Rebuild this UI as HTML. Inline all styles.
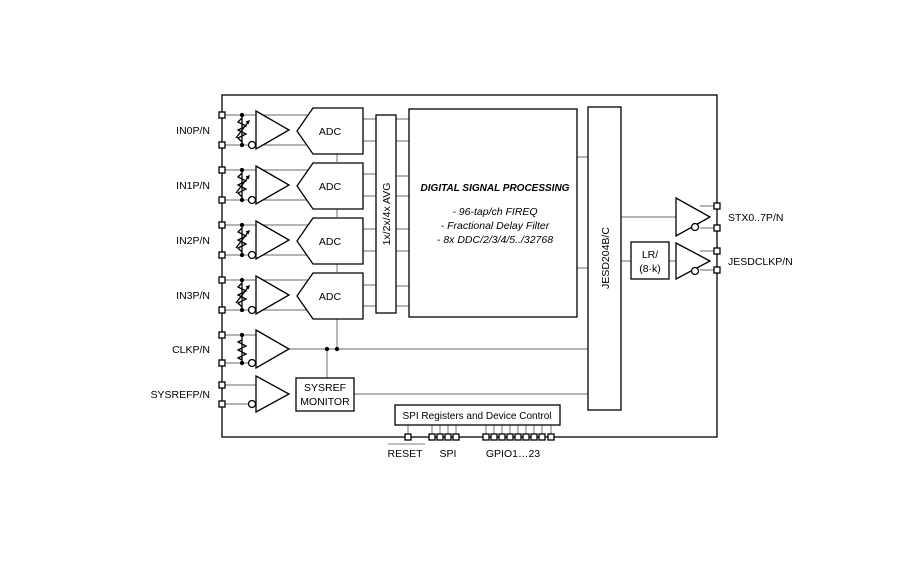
<!DOCTYPE html><html><head><style>body{margin:0;background:#fff}svg{display:block}text{font-family:"Liberation Sans",sans-serif;font-size:10.5px;fill:#000}</style></head><body>
<svg width="906" height="578" viewBox="0 0 906 578" xmlns="http://www.w3.org/2000/svg">
<g stroke="#888" stroke-width="1.2" fill="none">
<path d="M222 115H310M222 145H310M222 170H310M222 200H310M222 225H310M222 255H310M222 280H310M222 310H310"/>
<path d="M363 119H376M363 141H376M363 174H376M363 196H376M363 229H376M363 251H376M363 285H376M363 306H376"/>
<path d="M396 119H409M396 141H409M396 176H409M396 196H409M396 229H409M396 251H409M396 286H409M396 306H409"/>
<path d="M577 157H588M577 268H588M621 217H676M621 261H631M669 261H676"/>
<path d="M700 206H717M700 228H717M700 251H717M700 270H717"/>
<path d="M289 349H588M354 394H588M222 335H256M222 363H256M222 385H256M222 404H256"/>
<path d="M337 154V162M337 208V217M337 263V272M337 318V349M327 349V378"/>
<path d="M408 425V437M432 425V437M440 425V437M448 425V437M456 425V437M486 425V437M494 425V437M502 425V437M510 425V437M518 425V437M526 425V437M534 425V437M542 425V437M551 425V437"/>
<path d="M388 444H425" stroke="#999"/>
</g>
<g stroke="#000" stroke-width="1.3" fill="#fff">
<rect x="222" y="95" width="495" height="342" fill="none"/>
<rect x="376" y="115" width="20" height="198"/>
<rect x="409" y="109" width="168" height="208"/>
<rect x="588" y="107" width="33" height="303"/>
<rect x="631" y="242" width="38" height="37"/>
<rect x="296" y="378" width="58" height="33"/>
<rect x="395" y="405" width="165" height="20"/>
<g id="ch">
<polygon points="297,131 313,108 363,108 363,154 313,154"/>
<polygon points="256,111 289,130 256,149"/>
<circle cx="252" cy="145" r="3.5"/>
<path d="M242 115V145" stroke="#000" fill="none"/>
<path d="M242 118l-4 4 8 4-8 4 8 4-8 4 4 4" fill="none"/>
<path d="M236 138L249 121M246 122l3-1-1 3" fill="none"/>
<circle cx="242" cy="115" r="1.5" fill="#000"/><circle cx="242" cy="145" r="1.5" fill="#000"/>
<rect x="219" y="112" width="6" height="6"/><rect x="219" y="142" width="6" height="6"/>
</g>
<use href="#ch" y="55"/><use href="#ch" y="110"/><use href="#ch" y="165"/>
<polygon points="256,330 289,349 256,368"/><circle cx="252" cy="363" r="3.5"/>
<path d="M242 335V363M242 340l-4 2 8 4-8 4 8 4-8 4 4 2" fill="none"/>
<circle cx="242" cy="335" r="1.5" fill="#000"/><circle cx="242" cy="363" r="1.5" fill="#000"/>
<circle cx="327" cy="349" r="1.5" fill="#000"/><circle cx="337" cy="349" r="1.5" fill="#000"/>
<rect x="219" y="332" width="6" height="6"/><rect x="219" y="360" width="6" height="6"/>
<polygon points="256,376 289,394 256,412"/><circle cx="252" cy="404" r="3.5"/>
<rect x="219" y="382" width="6" height="6"/><rect x="219" y="401" width="6" height="6"/>
<polygon points="676,198 710,217 676,236"/><circle cx="695" cy="227" r="3.5"/>
<polygon points="676,243 710,261 676,279"/><circle cx="695" cy="271" r="3.5"/>
<rect x="714" y="203" width="6" height="6"/><rect x="714" y="225" width="6" height="6"/>
<rect x="714" y="248" width="6" height="6"/><rect x="714" y="267" width="6" height="6"/>
<g><rect x="405" y="434" width="6" height="6"/>
<rect x="429" y="434" width="6" height="6"/><rect x="437" y="434" width="6" height="6"/><rect x="445" y="434" width="6" height="6"/><rect x="453" y="434" width="6" height="6"/>
<rect x="483" y="434" width="6" height="6"/><rect x="491" y="434" width="6" height="6"/><rect x="499" y="434" width="6" height="6"/><rect x="507" y="434" width="6" height="6"/><rect x="515" y="434" width="6" height="6"/><rect x="523" y="434" width="6" height="6"/><rect x="531" y="434" width="6" height="6"/><rect x="539" y="434" width="6" height="6"/><rect x="548" y="434" width="6" height="6"/></g>
</g>
<g>
<text x="330" y="135" text-anchor="middle">ADC</text><text x="330" y="190" text-anchor="middle">ADC</text><text x="330" y="245" text-anchor="middle">ADC</text><text x="330" y="300" text-anchor="middle">ADC</text>
<text x="210" y="134" text-anchor="end">IN0P/N</text><text x="210" y="189" text-anchor="end">IN1P/N</text><text x="210" y="244" text-anchor="end">IN2P/N</text><text x="210" y="299" text-anchor="end">IN3P/N</text>
<text x="210" y="353" text-anchor="end">CLKP/N</text><text x="210" y="398" text-anchor="end">SYSREFP/N</text>
<text x="325" y="391" text-anchor="middle">SYSREF</text><text x="325" y="405" text-anchor="middle">MONITOR</text>
<text x="477" y="419" text-anchor="middle" style="font-size:10px">SPI Registers and Device Control</text>
<text x="405" y="457" text-anchor="middle">RESET</text><text x="448" y="457" text-anchor="middle">SPI</text><text x="513" y="457" text-anchor="middle">GPIO1…23</text>
<text x="728" y="221">STX0..7P/N</text><text x="728" y="265">JESDCLKP/N</text>
<text x="650" y="258" text-anchor="middle">LR/</text><text x="650" y="272" text-anchor="middle">(8·k)</text>
<text transform="translate(390,214) rotate(-90)" text-anchor="middle">1x/2x/4x AVG</text>
<text transform="translate(609,258) rotate(-90)" text-anchor="middle">JESD204B/C</text>
<text x="495" y="191" text-anchor="middle" font-weight="bold" font-style="italic" style="font-size:10px">DIGITAL SIGNAL PROCESSING</text>
<text x="495" y="215" text-anchor="middle" font-style="italic">- 96-tap/ch FIREQ</text>
<text x="495" y="229" text-anchor="middle" font-style="italic">- Fractional Delay Filter</text>
<text x="495" y="243" text-anchor="middle" font-style="italic">- 8x DDC/2/3/4/5../32768</text>
</g>
</svg></body></html>
